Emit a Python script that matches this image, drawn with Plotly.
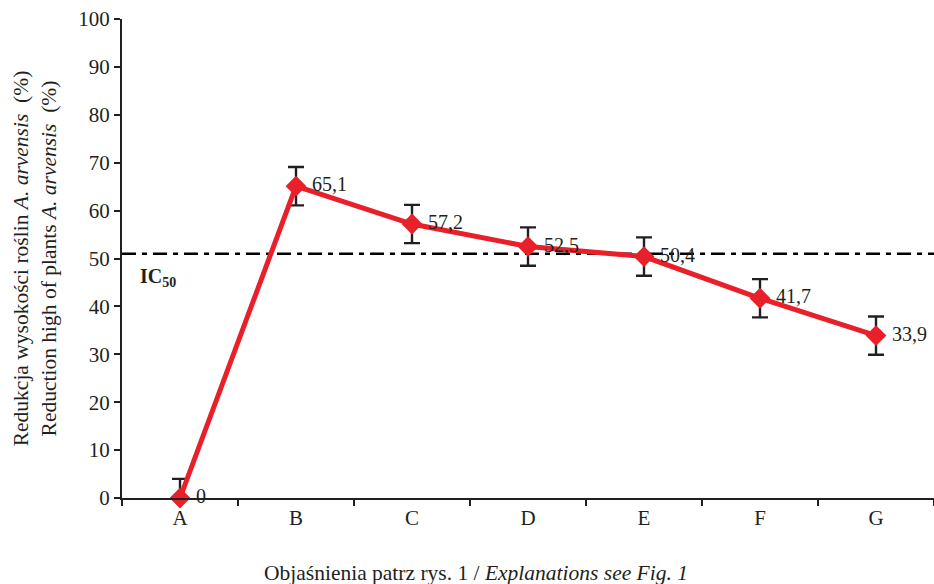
import plotly.graph_objects as go

categories = ["A", "B", "C", "D", "E", "F", "G"]
values = [0, 65.1, 57.2, 52.5, 50.4, 41.7, 33.9]
labels = ["0", "65,1", "57,2", "52,5", "50,4", "41,7", "33,9"]
err_plus = [4, 4, 4, 4, 4, 4, 4]
err_minus = [0, 4, 4, 4, 4, 4, 4]
ic50 = 51
y_ticks = list(range(0, 101, 10))

FONT = "Liberation Serif, Times New Roman, serif"
TXT = "#231f20"

fig = go.Figure()
fig.add_trace(go.Scatter(
    x=categories, y=values,
    mode="lines+markers+text",
    line=dict(color="#e8202a", width=5),
    marker=dict(symbol="diamond", size=16, color="#e8202a"),
    text=[" " + t for t in labels], textposition="middle right",
    textfont=dict(family=FONT, size=20, color=TXT),
    error_y=dict(type="data", symmetric=False, array=err_plus, arrayminus=err_minus,
                 color=TXT, thickness=2.4, width=8),
    cliponaxis=False,
    showlegend=False,
))

fig.add_shape(type="line", xref="paper", yref="y", x0=0, x1=1, y0=ic50, y1=ic50,
              line=dict(color="black", width=2.5, dash="14px,6px,5px,6px"), layer="below")

fig.add_annotation(x=0, xref="paper", y=46, yref="y", xanchor="left", xshift=16,
                   text="<b>IC<sub>50</sub></b>", showarrow=False,
                   font=dict(family=FONT, size=20, color=TXT))

# x-axis caption, centred on the page rather than the plot area
fig.add_annotation(x=0.436, xref="paper", y=-0.157, yref="paper",
                   xanchor="center", yanchor="middle", showarrow=False,
                   text="Objaśnienia patrz rys. 1 / <i>Explanations see Fig. 1</i>",
                   font=dict(family=FONT, size=21.5, color=TXT))

fig.update_layout(
    width=934, height=584,
    margin=dict(l=122, r=0, t=19, b=86),
    plot_bgcolor="white", paper_bgcolor="white",
    font=dict(family=FONT, size=20, color=TXT),
    xaxis=dict(
        type="category", range=[-0.5, 6.5], tickson="boundaries",
        showline=True, linecolor=TXT, linewidth=2,
        ticks="outside", ticklen=6, tickcolor=TXT, tickwidth=2,
        showgrid=False, zeroline=False,
        tickfont=dict(family=FONT, size=21, color=TXT),
    ),
    yaxis=dict(
        range=[0, 100], tickvals=y_ticks,
        showline=True, linecolor=TXT, linewidth=2,
        ticks="outside", ticklen=6, tickcolor=TXT, tickwidth=2,
        showgrid=False, zeroline=False,
        tickfont=dict(family=FONT, size=21, color=TXT),
        title=dict(text="Redukcja wysokości roślin <i>A. arvensis</i>  (%)<br>Reduction high of plants <i>A. arvensis</i>  (%)",
                   font=dict(family=FONT, size=21.5, color=TXT), standoff=16),
    ),
)

fig.write_html("out.html")
